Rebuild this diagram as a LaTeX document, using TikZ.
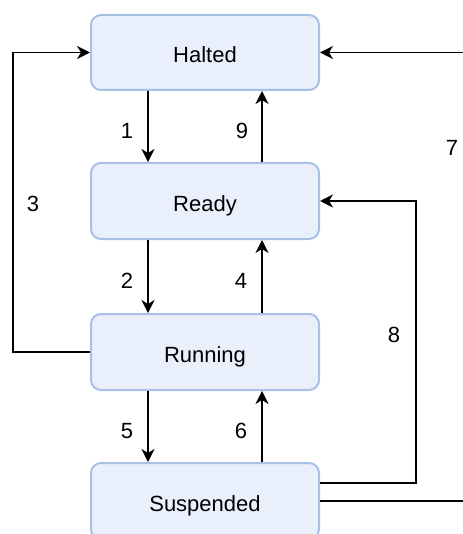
\documentclass[tikz,border=0pt]{standalone}
\usepackage{fontspec}
\setmainfont{Liberation Sans}
\usetikzlibrary{arrows.meta,calc}
\definecolor{boxfill}{HTML}{E9F0FB}
\definecolor{boxline}{HTML}{A8C0E4}
\tikzset{
  state/.style={draw=boxline, fill=boxfill, line width=2pt, rounded corners=10pt,
    minimum width=228pt, minimum height=76pt, inner sep=0pt, text height=21pt, text depth=0pt,
    font=\fontsize{22}{26}\selectfont},
  arr/.style={draw=black, line width=1.4pt, -{Stealth[length=13pt,width=13pt,inset=4pt]}},
  lbl/.style={font=\fontsize{22}{26}\selectfont, inner sep=0pt}
}
\begin{document}
\begin{tikzpicture}[x=1pt,y=-1pt]
\useasboundingbox (0,0) rectangle (462,534);
\node[state, minimum height=75pt] (halt) at (205,52.5) {Halted};
\node[state] (ready) at (205,201) {Ready};
\node[state] (run) at (205,352) {Running};
\node[state] (susp) at (205,501) {Suspended};
% vertical arrows
\draw[arr] ([xshift=-57pt]halt.south) -- ([xshift=-57pt]ready.north);
\draw[arr] ([xshift=57pt]ready.north) -- ([xshift=57pt]halt.south);
\draw[arr] ([xshift=-57pt]ready.south) -- ([xshift=-57pt]run.north);
\draw[arr] ([xshift=57pt]run.north) -- ([xshift=57pt]ready.south);
\draw[arr] ([xshift=-57pt]run.south) -- ([xshift=-57pt]susp.north);
\draw[arr] ([xshift=57pt]susp.north) -- ([xshift=57pt]run.south);
% loop 3
\coordinate (c3) at ($(run.west)+(-77,0)$);
\draw[arr] (run.west) -- (c3) |- (halt.west);
% loop 8
\coordinate (s8) at ($(susp.east)+(0,-18)$);
\coordinate (c8) at ($(s8)+(96,0)$);
\draw[arr] (s8) -- (c8) |- (ready.east);
% loop 7
\coordinate (c7) at ($(susp.east)+(148,0)$);
\draw[arr] (susp.east) -- (c7) |- (halt.east);
% labels
\node[lbl] (l1) at (127,131) {1};
\node[lbl] (l9) at (242,131) {9};
\node[lbl] (l3) at (33,204) {3};
\node[lbl] (l7) at (452,148) {7};
\node[lbl] (l2) at (127,281) {2};
\node[lbl] (l4) at (241,281) {4};
\node[lbl] (l8) at (394,335) {8};
\node[lbl] (l5) at (127,431) {5};
\node[lbl] (l6) at (241,431) {6};
\end{tikzpicture}
\end{document}
